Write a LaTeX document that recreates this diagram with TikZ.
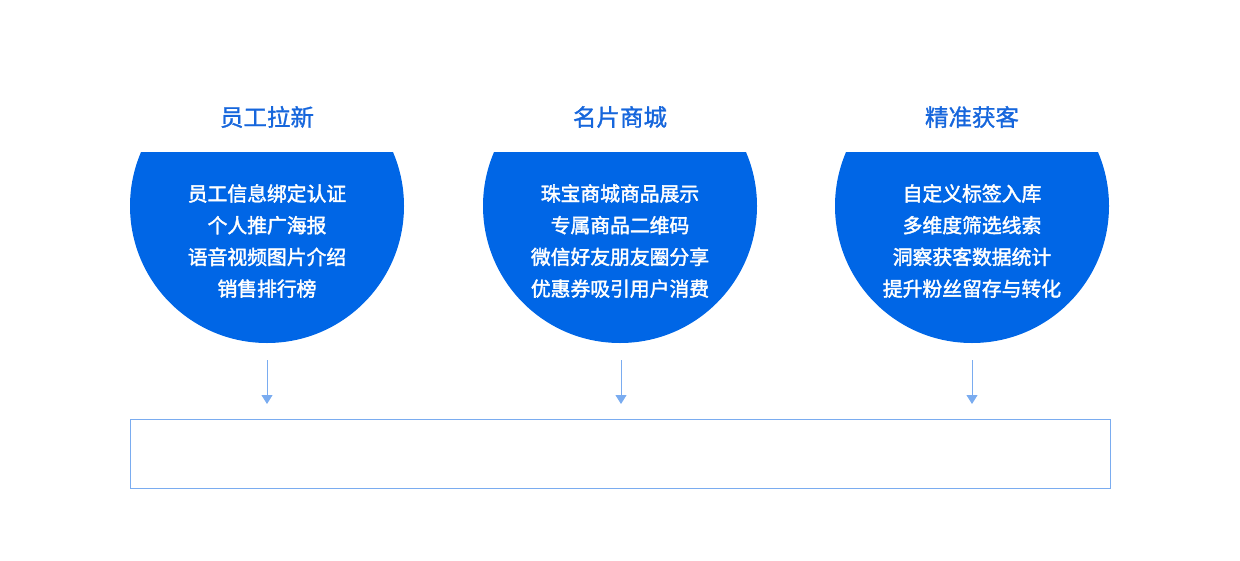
\documentclass[tikz,border=0pt]{standalone}
\usepackage{fontspec}
\newfontfamily\cjkt[FakeBold=1.2]{Noto Sans CJK SC}
\newfontfamily\cjkb[FakeBold=2]{Noto Sans CJK SC}
\usetikzlibrary{arrows.meta}
\definecolor{cblue}{RGB}{0,102,230}
\definecolor{tblue}{RGB}{22,102,220}
\definecolor{lblue}{RGB}{122,172,240}
\tikzset{
  ttl/.style={text=tblue, font=\cjkt\fontsize{23.5}{26}\selectfont, inner sep=0pt},
  body/.style={text=white, font=\cjkb\fontsize{19.8}{31.7}\selectfont, align=center, inner sep=0pt},
  conn/.style={draw=lblue, line width=1pt, -{Triangle[width=11pt,length=9pt]}},
  frame/.style={draw=lblue, line width=1pt, minimum width=980pt, minimum height=69pt, inner sep=0pt}
}
\begin{document}
\begin{tikzpicture}[x=1pt,y=-1pt]
\useasboundingbox (0,0) rectangle (1240,560);
\begin{scope}
\clip (0,152) rectangle (1240,560);
\fill[cblue] (267,206) circle[radius=137];
\fill[cblue] (620,206) circle[radius=137];
\fill[cblue] (972,206) circle[radius=137];
\end{scope}
\node[ttl] (t1) at (267,117) {员工拉新};
\node[ttl] (t2) at (620,117) {名片商城};
\node[ttl] (t3) at (972,117) {精准获客};
\node[body] (b1) at (267,241) {员工信息绑定认证\\个人推广海报\\语音视频图片介绍\\销售排行榜};
\node[body] (b2) at (620,241) {珠宝商城商品展示\\专属商品二维码\\微信好友朋友圈分享\\优惠券吸引用户消费};
\node[body] (b3) at (972,241) {自定义标签入库\\多维度筛选线索\\洞察获客数据统计\\提升粉丝留存与转化};
\node[frame] (box) at (620,453.5) {};
\coordinate (s1) at (267,360);
\coordinate (e1) at (267,404);
\coordinate (s2) at (621,360);
\coordinate (e2) at (621,404);
\coordinate (s3) at (972,360);
\coordinate (e3) at (972,404);
\draw[conn] (s1) -- (e1);
\draw[conn] (s2) -- (e2);
\draw[conn] (s3) -- (e3);
\end{tikzpicture}
\end{document}
